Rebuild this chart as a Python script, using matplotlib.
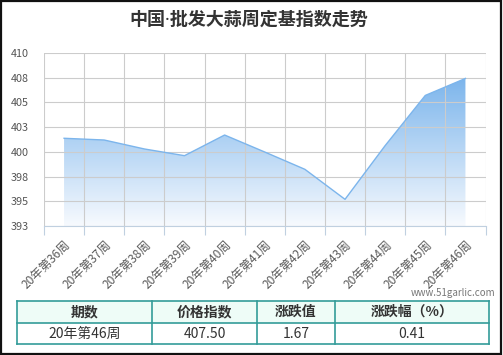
import numpy as np
import matplotlib
matplotlib.use("Agg")
import matplotlib.pyplot as plt
from matplotlib.colors import LinearSegmentedColormap
from matplotlib.patches import Rectangle, Polygon
from matplotlib.ticker import FixedLocator, FuncFormatter

plt.rcParams['font.family'] = ['Noto Sans CJK SC', 'DejaVu Sans']

weeks = ["20年第36周", "20年第37周", "20年第38周", "20年第39周", "20年第40周", "20年第41周",
         "20年第42周", "20年第43周", "20年第44周", "20年第45周", "20年第46周"]
index_values = [401.62, 401.45, 400.57, 399.91, 401.94, 400.27, 398.57, 395.62, 400.90, 405.83, 407.50]
y_min, y_max = 393, 410
y_ticks = np.linspace(y_min, y_max, 8)

table_header = ["期数", "价格指数", "涨跌值", "涨跌幅（%）"]
table_row = ["20年第46周", "407.50", "1.67", "0.41"]

W, H = 503, 355
fig = plt.figure(figsize=(W / 100, H / 100), dpi=100)

# main plot area (pixel box -> figure fraction)
ax = fig.add_axes([44 / W, 1 - 226 / H, (485.5 - 44) / W, (226 - 53) / H])
x = np.arange(len(weeks))
ax.set_xlim(-0.5, len(weeks) - 0.5)
ax.set_ylim(y_min, y_max)

# gradient area under the line
cmap = LinearSegmentedColormap.from_list("area", ["#f7fafe", "#7cb5ec"])
grad = np.linspace(0, 1, 256).reshape(-1, 1)
img = ax.imshow(grad, extent=[x[0], x[-1], y_min, max(index_values)], origin="lower",
                aspect="auto", cmap=cmap, zorder=1)
verts = [(x[0], y_min)] + list(zip(x, index_values)) + [(x[-1], y_min)]
clip = Polygon(verts, closed=True, transform=ax.transData, facecolor="none", edgecolor="none")
ax.add_patch(clip)
img.set_clip_path(clip)
ax.plot(x, index_values, color="#7cb5ec", lw=1, zorder=4)

# grid and ticks
ax.set_axisbelow(False)
ax.xaxis.set_major_locator(FixedLocator(np.arange(-0.5, len(weeks), 1)))
ax.xaxis.set_minor_locator(FixedLocator(x))
ax.set_xticklabels([], minor=False)
ax.set_xticklabels(weeks, minor=True, rotation=45, ha="right", va="top",
                   rotation_mode="anchor", fontsize=8.6, color="#5a5a5a")
ax.tick_params(axis="x", which="major", length=6.5, color="#c0d0e0", width=0.8)
ax.tick_params(axis="x", which="minor", length=0, pad=9)
ax.set_yticks(y_ticks)
ax.yaxis.set_major_formatter(FuncFormatter(lambda v, p: "%d" % round(v)))
ax.tick_params(axis="y", length=0, pad=11, labelsize=7.8, labelcolor="#555555")
ax.grid(True, which="major", color="#cccccc", lw=0.8, zorder=2)
for s in ["left", "right", "top"]:
    ax.spines[s].set_visible(False)
ax.spines["bottom"].set_color("#c0d0e0")
ax.spines["bottom"].set_linewidth(0.8)
ax.spines["bottom"].set_zorder(5)

# title (Noto Sans first so the middle dot stays narrow)
fig.text(249 / W, 1 - 20 / H, "中国·批发大蒜周定基指数走势", ha="center", va="center",
         fontsize=13, fontweight="bold", color="#333333",
         family=["Noto Sans", "Noto Sans CJK SC"])

# overlay for frame, watermark and table (pixel coordinates)
ov = fig.add_axes([0, 0, 1, 1], facecolor="none")
ov.set_xlim(0, W)
ov.set_ylim(H, 0)
ov.axis("off")
ov.add_patch(Rectangle((1, 1), W - 2.5, H - 2.5, fill=False, edgecolor="#111111", lw=1.6))
ov.text(495, 293, "www.51garlic.com", ha="right", va="center", fontsize=7, color="#777777")

col_edges = [17, 152, 257, 335, 489]
row_edges = [301, 323, 344]
border = "#339c99"
ov.add_patch(Rectangle((col_edges[0], row_edges[0]), col_edges[-1] - col_edges[0],
                       row_edges[1] - row_edges[0], facecolor="#eefcf7", edgecolor="none"))
for i in range(len(table_header)):
    cx = (col_edges[i] + col_edges[i + 1]) / 2
    ov.text(cx, (row_edges[0] + row_edges[1]) / 2, table_header[i], ha="center", va="center",
            fontsize=10, fontweight="bold", color="#333333")
    ov.text(cx, (row_edges[1] + row_edges[2]) / 2, table_row[i], ha="center", va="center",
            fontsize=10, color="#333333")
for y in row_edges:
    ov.plot([col_edges[0], col_edges[-1]], [y, y], color=border, lw=1.2)
for xe in col_edges:
    ov.plot([xe, xe], [row_edges[0], row_edges[-1]], color=border, lw=1.2)

fig.savefig("out.png", dpi=100)
